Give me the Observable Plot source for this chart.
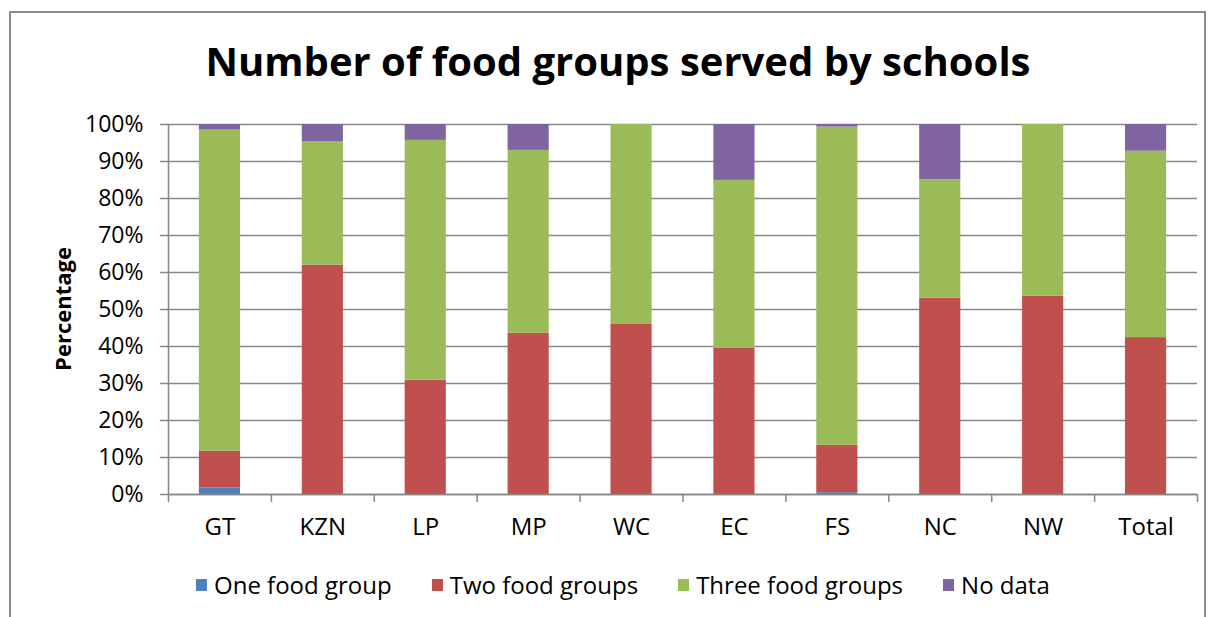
<!DOCTYPE html>
<html>
<head>
<meta charset="utf-8">
<script src="https://cdn.jsdelivr.net/npm/d3@7"></script>
<script src="https://cdn.jsdelivr.net/npm/@observablehq/plot@0.6"></script>
<style>
  html, body { margin: 0; padding: 0; background: #fff; }
  #wrap { position: relative; width: 1213px; height: 617px; overflow: hidden; font-family: "Open Sans", sans-serif; color: #000; }
  #border { position: absolute; left: 9px; top: 11px; width: 1197px; height: 700px; border: 2px solid #8c8c8c; box-sizing: border-box; }
  #title { position: absolute; top: 41px; left: 618px; transform: translateX(-50%); white-space: nowrap; font-weight: bold; font-size: 40px; line-height: 1; }
  #ylabel { position: absolute; left: 62px; top: 309px; transform: translate(-50%, -50%) rotate(-90deg); white-space: nowrap; font-weight: bold; font-size: 22px; line-height: 1; }
  #chart { position: absolute; left: 0; top: 0; }
  #legend { position: absolute; top: 569px; left: 196px; display: flex; gap: 40px; font-size: 24px; line-height: 32px; white-space: nowrap; }
  .item { display: flex; align-items: center; gap: 7px; }
  .sw { width: 11px; height: 12px; display: inline-block; }
</style>
</head>
<body>
<div id="wrap">
  <div id="border"></div>
  <div id="chart"></div>
  <div id="title"></div>
  <div id="ylabel"></div>
  <div id="legend"></div>
</div>
<script>
const titleText = "Number of food groups served by schools";
const yLabel = "Percentage";
const categories = ["GT", "KZN", "LP", "MP", "WC", "EC", "FS", "NC", "NW", "Total"];
const seriesNames = ["One food group", "Two food groups", "Three food groups", "No data"];
const seriesColors = ["#4F81BD", "#C0504D", "#9BBB59", "#8064A2"];
const oneGroup    = [1.8, 0,    0,    0,    0,    0,    0.5,  0,    0,    0];
const twoGroups   = [9.9, 62.0, 30.9, 43.6, 46.1, 39.5, 12.8, 53.1, 53.6, 42.4];
const threeGroups = [86.8, 33.4, 64.8, 49.4, 53.9, 45.4, 86.0, 32.0, 46.4, 50.4];
const noData      = [1.5, 4.6,  4.3,  7.0,  0,    15.1, 0.7,  14.9, 0,    7.2];
const yTicks = [0, 10, 20, 30, 40, 50, 60, 70, 80, 90, 100];

const seriesValues = [oneGroup, twoGroups, threeGroups, noData];
const rows = [];
categories.forEach((c, i) => {
  seriesNames.forEach((s, j) => rows.push({category: c, series: s, value: seriesValues[j][i]}));
});

const W = 1213, H = 545, ML = 168, MR = 16, MT = 124, MB = 51;
const step = (W - ML - MR) / categories.length;
const gray = "#878787";

const chart = Plot.plot({
  width: W, height: H,
  marginLeft: ML, marginRight: MR, marginTop: MT, marginBottom: MB,
  style: {fontFamily: "Open Sans, sans-serif", color: "#000", background: "transparent"},
  x: {domain: categories, paddingInner: 0.6, paddingOuter: 0.3, round: false, axis: null},
  y: {domain: [0, 100], axis: null},
  color: {domain: seriesNames, range: seriesColors},
  marks: [
    Plot.gridY(yTicks, {stroke: gray, strokeOpacity: 1, strokeWidth: 1.5}),
    Plot.axisY(yTicks, {tickSize: 8, tickPadding: 17, tickFormat: d => d + "%", fontSize: 23, stroke: gray, strokeWidth: 1.5, label: null}),
    Plot.barY(rows, {x: "category", y: "value", fill: "series"}),
    Plot.ruleY([0], {stroke: gray, strokeWidth: 1.5}),
    Plot.ruleX([categories[0]], {y1: 0, y2: 100, dx: -step / 2, stroke: gray, strokeWidth: 1.5}),
    Plot.axisX(categories, {tickSize: 8, tickFormat: () => "", dx: -step / 2, stroke: gray, strokeWidth: 1.5, label: null}),
    Plot.axisX([categories[categories.length - 1]], {tickSize: 8, tickFormat: () => "", dx: step / 2, stroke: gray, strokeWidth: 1.5, label: null}),
    Plot.axisX(categories, {tickSize: 0, tickPadding: 23, fontSize: 24, label: null})
  ]
});
document.getElementById("chart").appendChild(chart);
document.getElementById("title").textContent = titleText;
document.getElementById("ylabel").textContent = yLabel;

const legend = document.getElementById("legend");
seriesNames.forEach((s, i) => {
  const item = document.createElement("div");
  item.className = "item";
  const sw = document.createElement("span");
  sw.className = "sw";
  sw.style.background = seriesColors[i];
  const t = document.createElement("span");
  t.textContent = s;
  item.appendChild(sw);
  item.appendChild(t);
  legend.appendChild(item);
});
</script>
</body>
</html>
